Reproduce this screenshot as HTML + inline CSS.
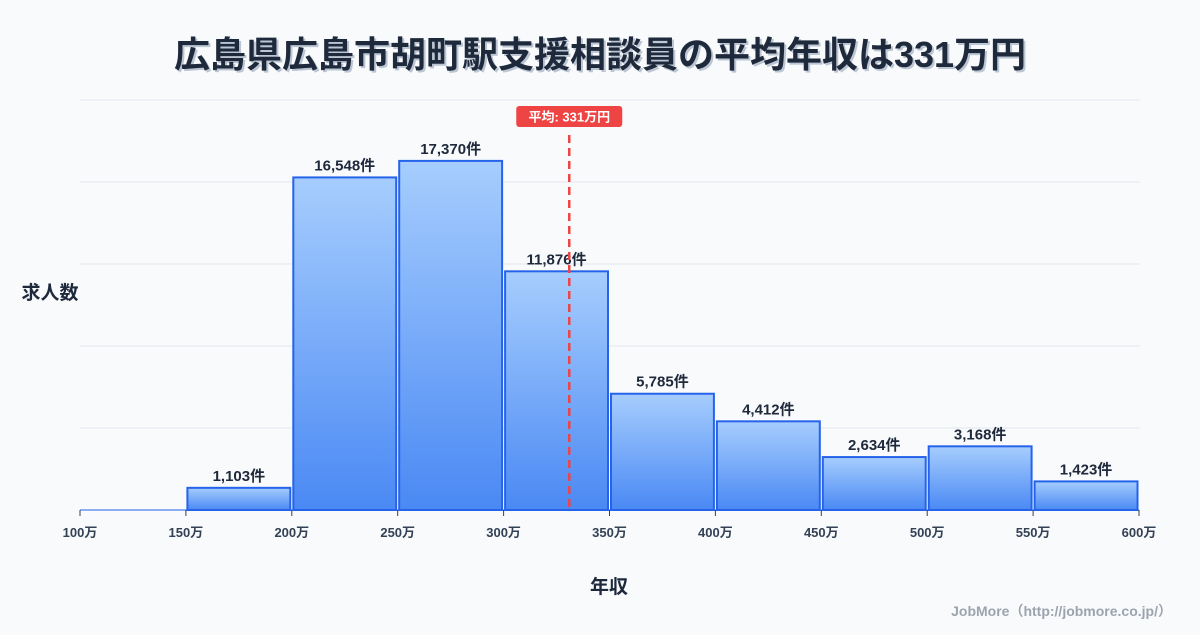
<!DOCTYPE html>
<html><head><meta charset="utf-8"><style>
body{margin:0;background:#f8fafc;font-family:"Liberation Sans","Noto Sans CJK JP",sans-serif;}
svg text{font-family:"Liberation Sans","Noto Sans CJK JP",sans-serif;}
</style></head><body>
<svg width="1200" height="630" viewBox="0 0 1200 630">
<defs><linearGradient id="g" x1="0" y1="0" x2="0" y2="1"><stop offset="0" stop-color="#a6cdfd"/><stop offset="1" stop-color="#4a89f4"/></linearGradient></defs>
<rect width="1200" height="630" fill="#f8fafc"/>
<text x="602" y="69" text-anchor="middle" font-size="36" font-weight="bold" fill="#94a3b8" opacity="0.6">広島県広島市胡町駅支援相談員の平均年収は331万円</text>
<text x="600" y="67" text-anchor="middle" font-size="36" font-weight="bold" fill="#1e293b">広島県広島市胡町駅支援相談員の平均年収は331万円</text>
<g id="grid"></g>
<g id="bars"></g>
<g id="axis"></g>
<text x="50" y="299" text-anchor="middle" font-size="19" font-weight="bold" fill="#1e293b">求人数</text>
<text x="609" y="593" text-anchor="middle" font-size="19" font-weight="bold" fill="#1e293b">年収</text>
<g id="mean"></g>
<text x="1172" y="616" text-anchor="end" font-size="14" font-weight="bold" fill="#9ca3af">JobMore（http://jobmore.co.jp/）</text>
</svg>
<script>
const binStarts=[100,150,200,250,300,350,400,450,500,550];
const counts=[0,1103,16548,17370,11876,5785,4412,2634,3168,1423];
const xTicks=[100,150,200,250,300,350,400,450,500,550,600];
const meanValue=331;
const yMax=20400;
const NS='http://www.w3.org/2000/svg';
const X0=80,X1=1139,Y0=510,Y1=100;
const x=v=>X0+(v-100)/500*(X1-X0);
const y=v=>Y0-v/yMax*(Y0-Y1);
function mk(t,a,p){const e=document.createElementNS(NS,t);for(const k in a)e.setAttribute(k,a[k]);p.appendChild(e);return e;}
const grid=document.getElementById('grid');
for(let i=0;i<5;i++){const gy=Y1+i*82;
const l=mk('line',{x1:X0,x2:X1+1,y1:gy,y2:gy,stroke:'#e2e8f0','stroke-width':1},grid);

}
const bars=document.getElementById('bars');
binStarts.forEach((b,i)=>{
const x0=x(b)+1.5,x1=x(b+50)-1.5,top=y(counts[i]);
const r=mk('rect',{x:x0,y:top,width:x1-x0,height:Y0-top,fill:'url(#g)',stroke:'#2563eb','stroke-width':2},bars);


if(counts[i]>0){const t=mk('text',{x:(x0+x1)/2,y:top-7,'text-anchor':'middle','font-size':15,'font-weight':'bold',fill:'#1e293b'},bars);
t.textContent=counts[i].toLocaleString('en-US')+'件';

}
});
const ax=document.getElementById('axis');
const bl=mk('line',{x1:X0,x2:X1,y1:Y0,y2:Y0,stroke:'#2563eb','stroke-width':1},ax);


xTicks.forEach(v=>{
const tk=mk('line',{x1:x(v),x2:x(v),y1:Y0,y2:Y0+6,stroke:'#334155','stroke-width':1},ax);


const t=mk('text',{x:x(v),y:Y0+27,'text-anchor':'middle','font-size':13,'font-weight':'bold',fill:'#334155'},ax);
t.textContent=v+'万';

});
const mg=document.getElementById('mean');const mx=x(meanValue);
const ml=mk('line',{x1:mx,x2:mx,y1:135,y2:Y0,stroke:'#ef4444','stroke-width':2.5,'stroke-dasharray':'8,5'},mg);


const mr=mk('rect',{x:mx-53,y:106,width:106,height:21,rx:3,fill:'#ef4444'},mg);


const mt=mk('text',{x:mx,y:121.5,'text-anchor':'middle','font-size':13,'font-weight':'bold',fill:'#fff'},mg);
mt.textContent='平均: '+meanValue+'万円';


</script>
</body></html>
